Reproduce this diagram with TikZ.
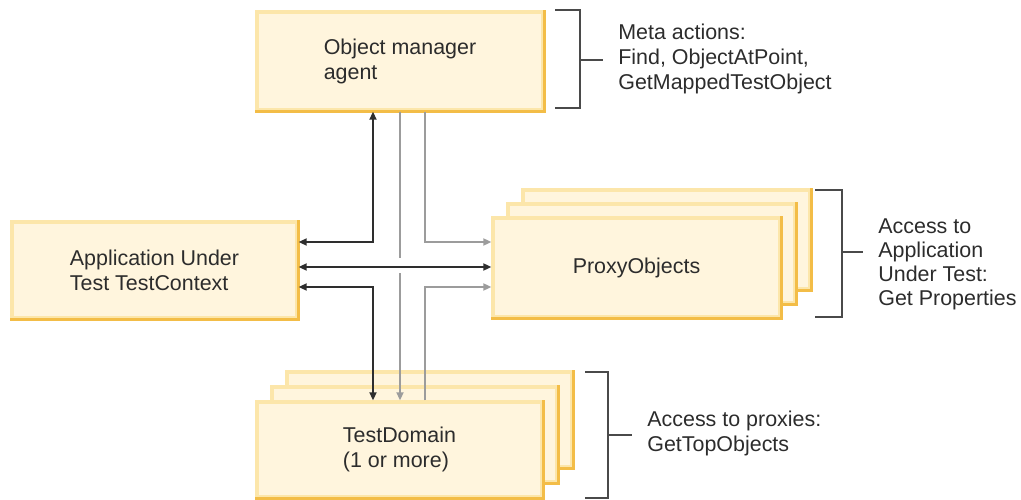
\documentclass[tikz,border=0pt]{standalone}
\usepackage{fontspec}
\setmainfont{Liberation Sans}
\usetikzlibrary{arrows.meta}
\definecolor{cream}{HTML}{FFF5DD}
\definecolor{edgelt}{HTML}{FCE6AA}
\definecolor{edgedk}{HTML}{F3BD47}
\definecolor{txt}{HTML}{2C2C2C}
\definecolor{dk}{HTML}{2E2E2E}
\definecolor{gr}{HTML}{9C9C9C}
\definecolor{br}{HTML}{4A4A4A}
\begin{document}
\begin{tikzpicture}[x=0.02cm,y=-0.02cm,
  >={Triangle[length=4.5pt,width=4pt]},
  boxst/.style={fill=cream, draw=edgelt, line width=2pt, align=left, inner sep=0pt,
    text=txt, font=\fontsize{12.2pt}{14.2pt}\selectfont},
  goldedge/.style={draw=edgedk, line width=1.9pt},
  darkc/.style={draw=dk, line width=1pt},
  grayc/.style={draw=gr, line width=1pt},
  labelst/.style={align=left, inner sep=0pt, text=txt, anchor=west,
    font=\fontsize{12.2pt}{14.2pt}\selectfont},
  bracketst/.style={draw=br, line width=0.8pt}]
\useasboundingbox (0,0) rectangle (1021,500);

% Object manager agent
\node[boxst, minimum width=5.72cm, minimum height=1.96cm] (om) at (400,61) {Object manager\\agent};
\draw[goldedge] (om.north east) -- (om.south east) -- (om.south west);

% Application Under Test
\node[boxst, minimum width=5.70cm, minimum height=1.92cm] (app) at (154.5,270) {Application Under\\Test TestContext};
\draw[goldedge] (app.north east) -- (app.south east) -- (app.south west);

% ProxyObjects stack
\node[boxst, minimum width=5.74cm, minimum height=1.98cm] (pxb) at (666.5,239.5) {};
\draw[goldedge] (pxb.north east) -- (pxb.south east) -- (pxb.south west);
\node[boxst, minimum width=5.74cm, minimum height=1.98cm] (pxm) at (651.5,253.5) {};
\draw[goldedge] (pxm.north east) -- (pxm.south east) -- (pxm.south west);
\node[boxst, minimum width=5.74cm, minimum height=1.98cm] (px) at (636.5,267.5) {ProxyObjects};
\draw[goldedge] (px.north east) -- (px.south east) -- (px.south west);

% TestDomain stack
\node[boxst, minimum width=5.70cm, minimum height=1.90cm] (tdb) at (429.5,419.5) {};
\draw[goldedge] (tdb.north east) -- (tdb.south east) -- (tdb.south west);
\node[boxst, minimum width=5.70cm, minimum height=1.90cm] (tdm) at (414.5,434.5) {};
\draw[goldedge] (tdm.north east) -- (tdm.south east) -- (tdm.south west);
\node[boxst, minimum width=5.70cm, minimum height=1.90cm] (td) at (399.5,449.5) {TestDomain\\(1 or more)};
\draw[goldedge] (td.north east) -- (td.south east) -- (td.south west);

% guide coordinates
\coordinate (cA) at (373,0);
\coordinate (cB) at (400,0);
\coordinate (cC) at (425,0);
\coordinate (rT) at (0,242);
\coordinate (rM) at (0,267);
\coordinate (rB) at (0,287);
\coordinate (gU) at (400,258);
\coordinate (gD) at (400,273);

% connectors
\draw[darkc,<->] (cA |- om.south) -- (cA |- rT) -- (app.east |- rT);
\draw[darkc,<->] (app.east |- rB) -- (cA |- rB) -- (cA |- td.north);
\draw[grayc] (cB |- om.south) -- (gU);
\draw[grayc,->] (gD) -- (cB |- td.north);
\draw[grayc,->] (cC |- om.south) -- (cC |- rT) -- (px.west |- rT);
\draw[grayc,->] (cC |- td.north) -- (cC |- rB) -- (px.west |- rB);
\draw[darkc,<->] (app.east |- rM) -- (px.west |- rM);

% brackets and labels
\draw[bracketst] (555,10) -- (580,10) -- (580,108) -- (555,108);
\draw[bracketst] (580,60) -- (603,60);
\node[labelst] (l1) at (618,59) {Meta actions:\\Find, ObjectAtPoint,\\GetMappedTestObject};

\draw[bracketst] (815,190) -- (842,190) -- (842,317) -- (815,317);
\draw[bracketst] (842,252) -- (863,252);
\node[labelst, font=\fontsize{12.2pt}{13.7pt}\selectfont] (l2) at (878,264) {Access to\\Application\\Under Test:\\Get Properties};

\draw[bracketst] (585,372) -- (608,372) -- (608,498) -- (585,498);
\draw[bracketst] (608,435) -- (632,435);
\node[labelst] (l3) at (647,433.5) {Access to proxies:\\GetTopObjects};
\end{tikzpicture}
\end{document}
